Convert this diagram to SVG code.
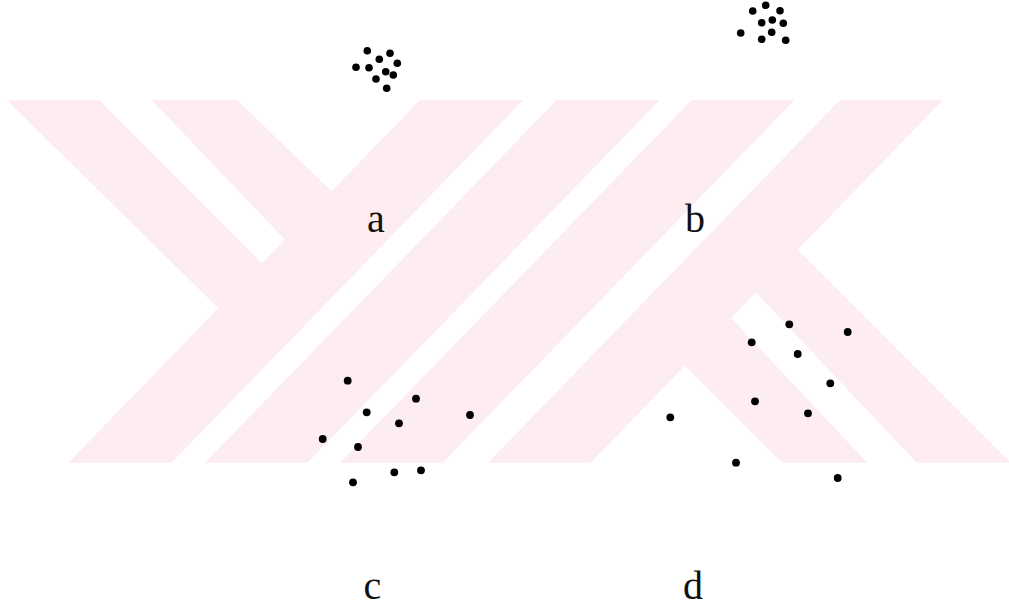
<svg xmlns="http://www.w3.org/2000/svg" width="1009" height="610" viewBox="0 0 1009 610">
<style>
.wm{fill:#fdedf0;stroke:none}
.d{fill:#000}
.lbl{font-family:"Liberation Serif","Times New Roman",serif;font-size:40px;fill:#111;text-anchor:middle}
</style>
<rect width="1009" height="610" fill="#fff"/>
<g id="watermark">
<polygon class="wm" points="420,100 523.3,100 171.7,462.7 68.3,462.7"/>
<polygon class="wm" points="6.7,100 99,100 264,265.5 220.3,310.3"/>
<polygon class="wm" points="151.7,100 237.3,100 334,193.5 287,242"/>
<polygon class="wm" points="556.7,100 660,100 307.6,462.7 205,462.7"/>
<polygon class="wm" points="691.8,100 794.7,100 442.7,462.7 339.8,462.7"/>
<polygon class="wm" points="839.8,100 943,100 590.7,462.7 487.8,462.7"/>
<polygon class="wm" points="681,361.7 727,313.6 867.4,462.7 782,462.7"/>
<polygon class="wm" points="752,288.3 793.3,245 1009,461 1009,462.7 916.7,462.7"/>
</g>
<g id="cluster-a">
<circle class="d" cx="367.3" cy="50.7" r="3.8"/>
<circle class="d" cx="390" cy="53.3" r="3.8"/>
<circle class="d" cx="379.3" cy="59.3" r="3.8"/>
<circle class="d" cx="397.3" cy="63.3" r="3.8"/>
<circle class="d" cx="356" cy="67.3" r="3.8"/>
<circle class="d" cx="369" cy="67.7" r="3.8"/>
<circle class="d" cx="385.7" cy="71.7" r="3.8"/>
<circle class="d" cx="393.3" cy="75" r="3.8"/>
<circle class="d" cx="376" cy="79" r="3.8"/>
<circle class="d" cx="386.7" cy="88.3" r="3.8"/>
</g>
<g id="cluster-b">
<circle class="d" cx="765.7" cy="5.3" r="3.8"/>
<circle class="d" cx="752.7" cy="11" r="3.8"/>
<circle class="d" cx="780" cy="10.7" r="3.8"/>
<circle class="d" cx="761.7" cy="22.7" r="3.8"/>
<circle class="d" cx="772.3" cy="20" r="3.8"/>
<circle class="d" cx="783.3" cy="23.3" r="3.8"/>
<circle class="d" cx="740.7" cy="33" r="3.8"/>
<circle class="d" cx="771.7" cy="32.3" r="3.8"/>
<circle class="d" cx="761.7" cy="39.3" r="3.8"/>
<circle class="d" cx="785.7" cy="40.3" r="3.8"/>
</g>
<g id="scatter-c">
<circle class="d" cx="347.7" cy="380.7" r="3.9"/>
<circle class="d" cx="416" cy="398.7" r="3.9"/>
<circle class="d" cx="366.7" cy="412.3" r="3.9"/>
<circle class="d" cx="470" cy="415" r="3.9"/>
<circle class="d" cx="399" cy="423.3" r="3.9"/>
<circle class="d" cx="322.7" cy="439" r="3.9"/>
<circle class="d" cx="358" cy="447" r="3.9"/>
<circle class="d" cx="394.3" cy="472.3" r="3.9"/>
<circle class="d" cx="421" cy="470.3" r="3.9"/>
<circle class="d" cx="353" cy="482.3" r="3.9"/>
</g>
<g id="scatter-d">
<circle class="d" cx="789.3" cy="324.3" r="3.9"/>
<circle class="d" cx="847.7" cy="332" r="3.9"/>
<circle class="d" cx="751.7" cy="342.3" r="3.9"/>
<circle class="d" cx="797.7" cy="354" r="3.9"/>
<circle class="d" cx="830.3" cy="383.3" r="3.9"/>
<circle class="d" cx="755" cy="401.3" r="3.9"/>
<circle class="d" cx="808" cy="413.3" r="3.9"/>
<circle class="d" cx="670.3" cy="417.3" r="3.9"/>
<circle class="d" cx="736" cy="462.7" r="3.9"/>
<circle class="d" cx="837.7" cy="478" r="3.9"/>
</g>
<g id="labels">
<text class="lbl" x="376" y="231.5">a</text>
<text class="lbl" x="695" y="231.5">b</text>
<text class="lbl" x="372.5" y="599">c</text>
<text class="lbl" x="693" y="599">d</text>
</g>
</svg>
